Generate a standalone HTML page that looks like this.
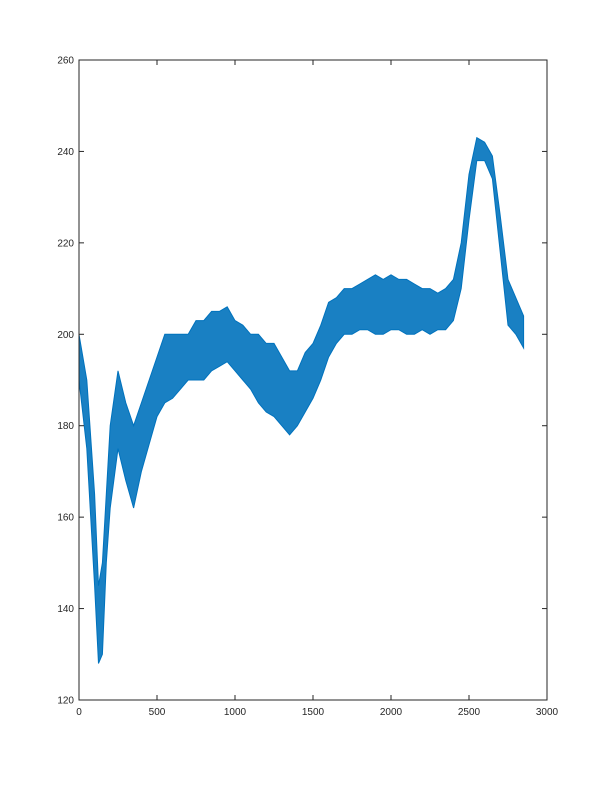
<!DOCTYPE html>
<html><head><meta charset="utf-8"><style>
body{margin:0;background:#fff}
svg text{font-family:"Liberation Sans",sans-serif;font-size:10px;fill:#262626}
</style></head><body>
<svg id="chart" width="605" height="786" xmlns="http://www.w3.org/2000/svg">
<rect x="0" y="0" width="605" height="786" fill="#fff"/>
<g id="plot"></g>
<g id="axes"></g>
</svg>
<script>
const xs  =[0,50,100,125,150,175,200,250,300,350,400,450,500,550,600,650,700,750,800,850,900,950,1000,1050,1100,1150,1200,1250,1300,1350,1400,1450,1500,1550,1600,1650,1700,1750,1800,1850,1900,1950,2000,2050,2100,2150,2200,2250,2300,2350,2400,2450,2500,2550,2600,2650,2700,2750,2800,2850];
const lows=[190,175,145,128,130,150,162,175,168,162,170,176,182,185,186,188,190,190,190,192,193,194,192,190,188,185,183,182,180,178,180,183,186,190,195,198,200,200,201,201,200,200,201,201,200,200,201,200,201,201,203,210,225,238,238,234,218,202,200,197];
const highs=[200,190,165,145,150,165,180,192,185,180,185,190,195,200,200,200,200,203,203,205,205,206,203,202,200,200,198,198,195,192,192,196,198,202,207,208,210,210,211,212,213,212,213,212,212,211,210,210,209,210,212,220,235,243,242,239,226,212,208,204];
const xTicks=[0,500,1000,1500,2000,2500,3000];
const yTicks=[120,140,160,180,200,220,240,260];
const L=79,R=547,T=60,B=700;
const sx=v=>L+(v-0)/3000*(R-L);
const sy=v=>B-(v-120)/140*(B-T);
const NS="http://www.w3.org/2000/svg";
const plot=document.getElementById('plot'),axes=document.getElementById('axes');
function mk(t,a,p){const e=document.createElementNS(NS,t);for(const k in a)e.setAttribute(k,a[k]);p.appendChild(e);return e;}
let d='M'+xs.map((x,i)=>sx(x)+','+sy(highs[i])).join('L');
for(let i=xs.length-1;i>=0;i--)d+='L'+sx(xs[i])+','+sy(lows[i]);
d+='Z';
const band=mk('path',{d:d,fill:'#0072BD','fill-opacity':'0.9',stroke:'#0072BD','stroke-width':'1'},plot);


mk('rect',{x:L,y:T,width:R-L,height:B-T,fill:'none',stroke:'#262626','stroke-width':'1'},axes);
xTicks.forEach(v=>{
  const x=sx(v);
  mk('line',{x1:x,x2:x,y1:B,y2:B-5,stroke:'#262626'},axes);
  mk('line',{x1:x,x2:x,y1:T,y2:T+5,stroke:'#262626'},axes);
  const t=mk('text',{x:x,y:B+15,'text-anchor':'middle'},axes);t.textContent=v;
  
  
});
yTicks.forEach(v=>{
  const y=sy(v);
  mk('line',{x1:L,x2:L+5,y1:y,y2:y,stroke:'#262626'},axes);
  mk('line',{x1:R,x2:R-5,y1:y,y2:y,stroke:'#262626'},axes);
  const t=mk('text',{x:L-5,y:y+3.5,'text-anchor':'end'},axes);t.textContent=v;
  
  
});
</script>
</body></html>
